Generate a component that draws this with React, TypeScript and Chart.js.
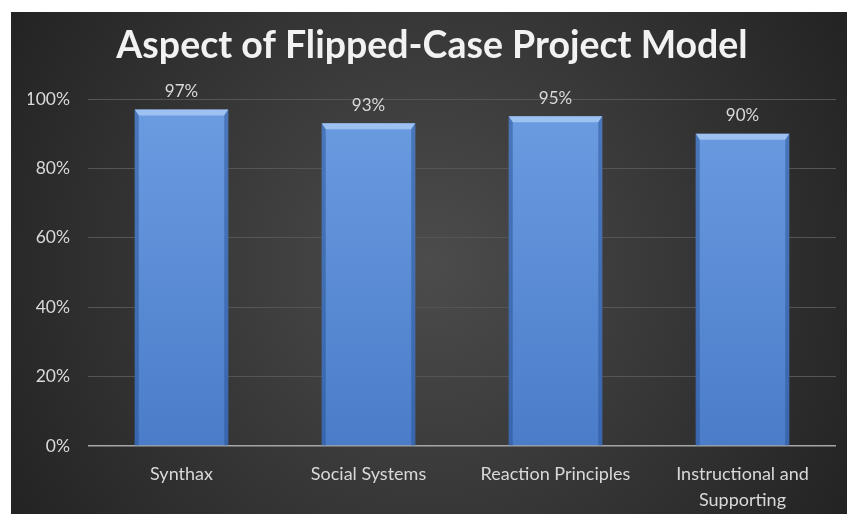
import React, { useEffect, useRef } from "react";
import { Chart, registerables } from "chart.js";

Chart.register(...registerables);

const titleText = "Aspect of Flipped-Case Project Model";
const categories: (string | string[])[] = [
  "Synthax",
  "Social Systems",
  "Reaction Principles",
  ["Instructional and", "Supporting"],
];
const percentValues = [97, 93, 95, 90];
const yTicks = [0, 20, 40, 60, 80, 100];

const FONT = "Lato, 'Open Sans', sans-serif";

const backgroundPlugin = {
  id: "panelBg",
  beforeDraw(chart: any) {
    const { ctx, width, height } = chart;
    ctx.save();
    const g = ctx.createRadialGradient(width / 2, height / 2, 0, width / 2, height / 2, Math.hypot(width, height) / 2);
    g.addColorStop(0, "#4c4c4c");
    g.addColorStop(1, "#232323");
    ctx.fillStyle = g;
    ctx.fillRect(0, 0, width, height);
    ctx.restore();
  },
};

const bevelAndLabels = {
  id: "bevelAndLabels",
  afterDatasetsDraw(chart: any) {
    const { ctx } = chart;
    const meta = chart.getDatasetMeta(0);
    ctx.save();
    meta.data.forEach((bar: any, i: number) => {
      const { x, y, base, width } = bar.getProps(["x", "y", "base", "width"], true);
      const l = x - width / 2;
      const r = x + width / 2;
      const b = 6;
      const s = 4;
      ctx.fillStyle = "rgba(175,205,245,0.75)";
      ctx.beginPath();
      ctx.moveTo(l, y);
      ctx.lineTo(r, y);
      ctx.lineTo(r - s, y + b);
      ctx.lineTo(l + s, y + b);
      ctx.closePath();
      ctx.fill();
      ctx.fillStyle = "rgba(35,75,140,0.45)";
      ctx.beginPath();
      ctx.moveTo(l, y);
      ctx.lineTo(l + s, y + b);
      ctx.lineTo(l + s, base);
      ctx.lineTo(l, base);
      ctx.closePath();
      ctx.fill();
      ctx.beginPath();
      ctx.moveTo(r, y);
      ctx.lineTo(r - s, y + b);
      ctx.lineTo(r - s, base);
      ctx.lineTo(r, base);
      ctx.closePath();
      ctx.fill();
      ctx.fillStyle = "#d9d9d9";
      ctx.font = `17px ${FONT}`;
      ctx.textAlign = "center";
      ctx.textBaseline = "middle";
      ctx.fillText(percentValues[i] + "%", x, y - 18);
    });
    ctx.restore();
  },
};

export default function App() {
  const ref = useRef<HTMLCanvasElement | null>(null);
  useEffect(() => {
    document.body.style.overflow = "hidden";
    const canvas = ref.current!;
    const chart = new Chart(canvas, {
      type: "bar",
      data: {
        labels: categories,
        datasets: [
          {
            data: percentValues,
            backgroundColor: (c: any) => {
              const area = c.chart.chartArea;
              if (!area) return "#5b8bd5";
              const g = c.chart.ctx.createLinearGradient(0, area.top, 0, area.bottom);
              g.addColorStop(0, "#6c9de2");
              g.addColorStop(1, "#4a7cc9");
              return g;
            },
            borderWidth: 0,
            barPercentage: 0.5,
            categoryPercentage: 1,
          },
        ],
      },
      options: {
        responsive: false,
        animation: false,
        layout: { padding: { left: 17, right: 11, top: 0, bottom: 0 } },
        plugins: {
          legend: { display: false },
          tooltip: { enabled: false },
          title: {
            display: true,
            text: titleText,
            color: "#f2f2f2",
            font: { family: FONT, size: 37.5, weight: "bold", lineHeight: 1.2 },
            padding: { top: 11, bottom: 31 },
          },
        },
        scales: {
          x: {
            grid: { display: false },
            border: { display: false },
            ticks: {
              color: "#d9d9d9",
              font: { family: FONT, size: 18, lineHeight: 1.4 },
              padding: 8,
              maxRotation: 0,
              autoSkip: false,
            },
            afterFit: (s: any) => {
              s.height = 68;
            },
          },
          y: {
            min: 0,
            max: 100,
            afterBuildTicks: (s: any) => {
              s.ticks = yTicks.map((v) => ({ value: v }));
            },
            grid: {
              color: (c: any) => (c.tick && c.tick.value === 0 ? "#a6a6a6" : "#555555"),
              lineWidth: (c: any) => (c.tick && c.tick.value === 0 ? 1.5 : 1),
              drawTicks: false,
            },
            border: { display: false },
            ticks: {
              color: "#d9d9d9",
              font: { family: FONT, size: 17.5 },
              padding: 18,
              callback: (v: any) => v + "%",
            },
            afterFit: (s: any) => {
              s.width = 60;
            },
          },
        },
      },
      plugins: [backgroundPlugin, bevelAndLabels],
    });
    return () => chart.destroy();
  }, []);
  return (
    <canvas
      ref={ref}
      width={836}
      height={502}
      style={{ display: "block", position: "absolute", left: 11, top: 12 }}
    />
  );
}
